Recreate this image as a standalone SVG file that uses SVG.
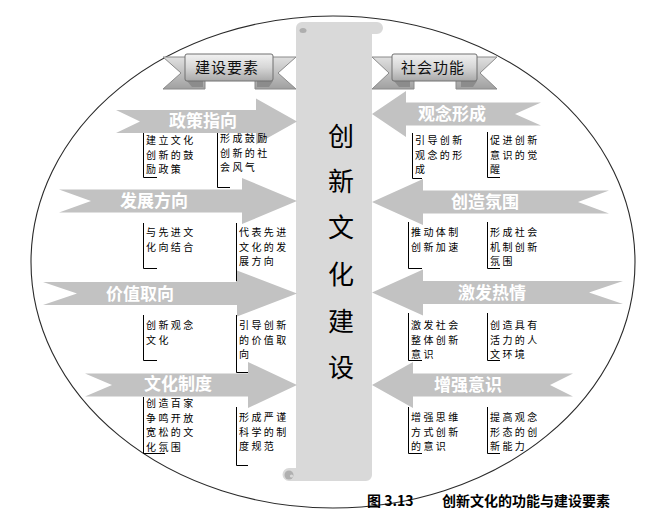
<svg xmlns="http://www.w3.org/2000/svg" width="666" height="530" viewBox="0 0 666 530">
<defs>
<linearGradient id="gBox" x1="0" y1="0" x2="0" y2="1">
<stop offset="0" stop-color="#f2f2f2"/><stop offset="0.5" stop-color="#d6d6d6"/><stop offset="1" stop-color="#a9a9a9"/>
</linearGradient>
<linearGradient id="gTail" x1="0" y1="0" x2="0" y2="1">
<stop offset="0" stop-color="#e0e0e0"/><stop offset="1" stop-color="#a0a0a0"/>
</linearGradient>
</defs>
<style>
.ell{fill:none;stroke:#2a2a2a;stroke-width:1.1}
.arr{fill:#c2c2c2}
.lab{font-family:"Noto Sans CJK SC","Noto Sans",sans-serif;font-size:17px;font-weight:bold;fill:#ffffff;text-anchor:middle}
.bx{fill:none;stroke:#000;stroke-width:1}
.bt{font-family:"Noto Sans CJK SC","Noto Sans",sans-serif;font-size:10px;letter-spacing:2.4px;fill:#000}
.ctr{font-family:"Noto Sans CJK SC","Noto Sans",sans-serif;font-size:26px;fill:#000;text-anchor:middle}
.tail{fill:url(#gTail);stroke:#8a8a8a;stroke-width:1}
.box{fill:url(#gBox);stroke:#707070;stroke-width:1}
.foot{fill:#8c8c8c}
.rt{font-family:"Noto Sans CJK SC","Noto Sans",sans-serif;font-size:15px;fill:#111;text-anchor:middle;letter-spacing:1px}
.cap{font-family:"Noto Sans CJK SC","Noto Sans",sans-serif;font-size:14px;font-weight:bold;fill:#000}
</style>
<rect width="666" height="530" fill="#ffffff"/>
<ellipse class="ell" cx="333" cy="262" rx="302" ry="246"/>

<g id="scroll">
<path d="M302,22 H377 A6,6 0 0 1 377,34 H372 V475 A6,6 0 0 1 366,481 H289 A6.5,6.5 0 0 1 289,468 H296 V28 A6,6 0 0 1 302,22 Z" fill="#d9d9d9"/>
<ellipse cx="303" cy="30.5" rx="3.5" ry="2.5" fill="#aeaeae"/>
<circle cx="289" cy="475" r="4.5" fill="#b0b0b0"/>
<circle cx="291.5" cy="476" r="1.6" fill="#d9d9d9"/>
<text class="ctr" x="341" y="146">创</text>
<text class="ctr" x="341" y="191">新</text>
<text class="ctr" x="341" y="237">文</text>
<text class="ctr" x="341" y="284">化</text>
<text class="ctr" x="341" y="331">建</text>
<text class="ctr" x="341" y="377">设</text>
</g>

<g id="ribbon-left">
<polygon class="tail" points="163,57 205,57 205,89 163,89 181,73"/>
<polygon class="tail" points="296,57 255,57 255,89 296,89 278,73"/>
<polygon class="foot" points="187,81 203,81 203,87 192,87"/>
<polygon class="foot" points="257,81 273,81 269,87 257,87"/>
<rect class="box" x="185" y="54" width="88" height="27" rx="2"/>
<text class="rt" x="227" y="73">建设要素</text>
</g>

<g id="ribbon-right">
<polygon class="tail" points="372,57 414,57 414,89 372,89 389,73"/>
<polygon class="tail" points="497,57 456,57 456,89 497,89 480,73"/>
<polygon class="foot" points="394,81 410,81 410,87 399,87"/>
<polygon class="foot" points="461,81 477,81 473,87 461,87"/>
<rect class="box" x="392" y="54" width="85" height="27" rx="2"/>
<text class="rt" x="433" y="73">社会功能</text>
</g>

<g id="bracket-lines">
<path class="bx" d="M143.5,130 V177.5 H157"/>
<path class="bx" d="M217.5,128 V187.5 H230"/>
<path class="bx" d="M143.5,223 V268.5 H157"/>
<path class="bx" d="M236.5,223 V281 H250"/>
<path class="bx" d="M143.5,315 V360.5 H157"/>
<path class="bx" d="M236.5,315 V372.5 H248"/>
<path class="bx" d="M143.5,397 V453.5 H165"/>
<path class="bx" d="M236.5,407 V465.5 H248"/>
<path class="bx" d="M412.5,133 V178.5 H422"/>
<path class="bx" d="M487.5,132 V177.5 H500"/>
<path class="bx" d="M408.5,222 V268.5 H422"/>
<path class="bx" d="M487.5,222 V268.5 H500"/>
<path class="bx" d="M408.5,313 V360.5 H422"/>
<path class="bx" d="M487.5,313 V360.5 H500"/>
<path class="bx" d="M408.5,407 V453.5 H422"/>
<path class="bx" d="M487.5,407 V453.5 H500"/>
</g>

<g id="connectors">
<g id="arrow-zhengce"><path class="arr" d="M116,110 L256,110 L256,98.5 L297,121.5 L256,144.5 L256,133 L116,133 L140,121.5 Z"/><text class="lab" x="203" y="127">政策指向</text></g>
<g id="arrow-fazhan"><path class="arr" d="M59,189.5 L242,189.5 L242,178 L297,201 L242,224 L242,212.5 L59,212.5 L91,201 Z"/><text class="lab" x="154" y="207">发展方向</text></g>
<g id="arrow-jiazhi"><path class="arr" d="M43,282 L237,282 L237,270.5 L297,293.5 L237,316.5 L237,305 L43,305 L77,293.5 Z"/><text class="lab" x="140" y="299.5">价值取向</text></g>
<g id="arrow-zhidu"><path class="arr" d="M85,373.5 L248,373.5 L248,362 L297,385 L248,408 L248,396.5 L85,396.5 L112,385 Z"/><text class="lab" x="178" y="390">文化制度</text></g>
<g id="arrow-guannian"><path class="arr" d="M541,102.5 L406,102.5 L406,91 L372,114 L406,137 L406,125.5 L541,125.5 L515,114 Z"/><text class="lab" x="452" y="120">观念形成</text></g>
<g id="arrow-fenwei"><path class="arr" d="M609,190.5 L423,190.5 L423,179 L372,202 L423,225 L423,213.5 L609,213.5 L578,202 Z"/><text class="lab" x="485" y="208">创造氛围</text></g>
<g id="arrow-reqing"><path class="arr" d="M623,281 L423,281 L423,269.5 L372,292.5 L423,315.5 L423,304 L623,304 L589,292.5 Z"/><text class="lab" x="492" y="298.5">激发热情</text></g>
<g id="arrow-yishi"><path class="arr" d="M573,373.5 L413,373.5 L413,362 L372,385 L413,408 L413,396.5 L573,396.5 L550,385 Z"/><text class="lab" x="468" y="391">增强意识</text></g>
</g>

<g id="box-a1"><text class="bt"><tspan x="146" y="144">建立文化</tspan><tspan x="146" y="158.5">创新的鼓</tspan><tspan x="146" y="173">励政策</tspan></text></g>
<g id="box-a2"><text class="bt"><tspan x="220" y="142">形成鼓励</tspan><tspan x="220" y="156.5">创新的社</tspan><tspan x="220" y="171">会风气</tspan></text></g>
<g id="box-b1"><text class="bt"><tspan x="146" y="236">与先进文</tspan><tspan x="146" y="250.5">化向结合</tspan></text></g>
<g id="box-b2"><text class="bt"><tspan x="239" y="236">代表先进</tspan><tspan x="239" y="250.5">文化的发</tspan><tspan x="239" y="265">展方向</tspan></text></g>
<g id="box-c1"><text class="bt"><tspan x="146" y="329">创新观念</tspan><tspan x="146" y="343.5">文化</tspan></text></g>
<g id="box-c2"><text class="bt"><tspan x="239" y="329">引导创新</tspan><tspan x="239" y="343.5">的价值取</tspan><tspan x="239" y="358">向</tspan></text></g>
<g id="box-d1"><text class="bt"><tspan x="146" y="407">创造百家</tspan><tspan x="146" y="421.5">争鸣开放</tspan><tspan x="146" y="436">宽松的文</tspan><tspan x="146" y="450.5">化氛围</tspan></text></g>
<g id="box-d2"><text class="bt"><tspan x="239" y="421">形成严谨</tspan><tspan x="239" y="435.5">科学的制</tspan><tspan x="239" y="450">度规范</tspan></text></g>
<g id="box-e1"><text class="bt"><tspan x="415" y="144">引导创新</tspan><tspan x="415" y="158.5">观念的形</tspan><tspan x="415" y="173">成</tspan></text></g>
<g id="box-e2"><text class="bt"><tspan x="490" y="144">促进创新</tspan><tspan x="490" y="158.5">意识的觉</tspan><tspan x="490" y="173">醒</tspan></text></g>
<g id="box-f1"><text class="bt"><tspan x="411" y="236">推动体制</tspan><tspan x="411" y="250.5">创新加速</tspan></text></g>
<g id="box-f2"><text class="bt"><tspan x="490" y="236">形成社会</tspan><tspan x="490" y="250.5">机制创新</tspan><tspan x="490" y="265">氛围</tspan></text></g>
<g id="box-g1"><text class="bt"><tspan x="411" y="329">激发社会</tspan><tspan x="411" y="343.5">整体创新</tspan><tspan x="411" y="358">意识</tspan></text></g>
<g id="box-g2"><text class="bt"><tspan x="490" y="329">创造具有</tspan><tspan x="490" y="343.5">活力的人</tspan><tspan x="490" y="358">文环境</tspan></text></g>
<g id="box-h1"><text class="bt"><tspan x="411" y="421">增强思维</tspan><tspan x="411" y="435.5">方式创新</tspan><tspan x="411" y="450">的意识</tspan></text></g>
<g id="box-h2"><text class="bt"><tspan x="490" y="421">提高观念</tspan><tspan x="490" y="435.5">形态的创</tspan><tspan x="490" y="450">新能力</tspan></text></g>

<g id="caption"><text class="cap" y="506"><tspan x="367">图 3.13</tspan><tspan x="442">创新文化的功能与建设要素</tspan></text></g>
</svg>
